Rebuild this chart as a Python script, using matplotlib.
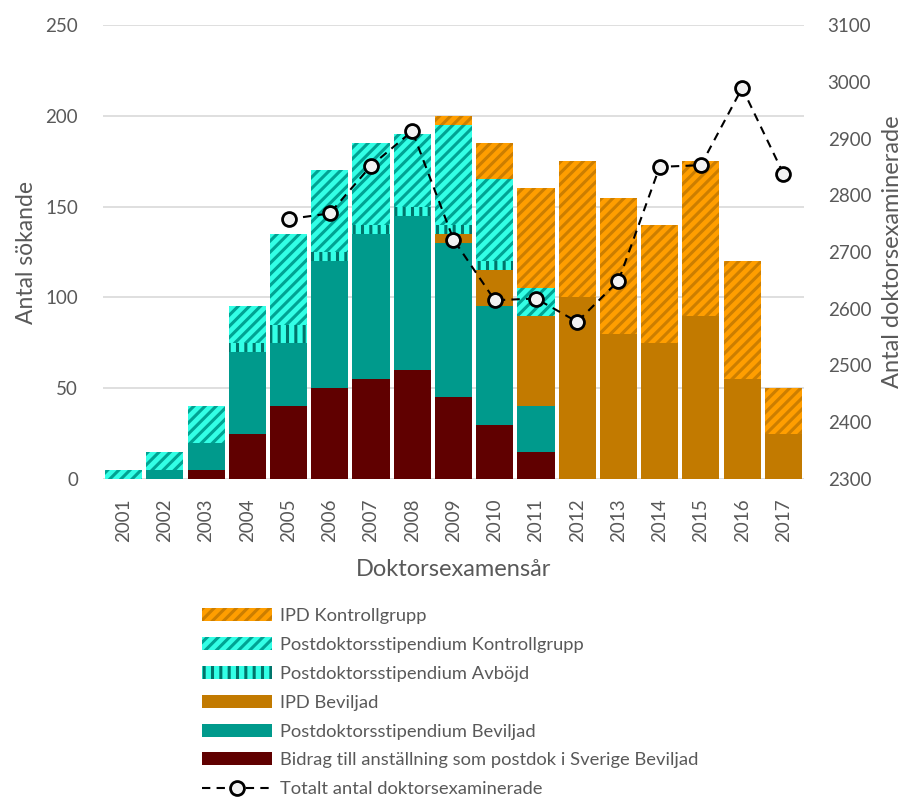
import matplotlib.pyplot as plt
import numpy as np
from matplotlib.lines import Line2D
from matplotlib.patches import Patch

plt.rcParams['font.family'] = ['Lato', 'DejaVu Sans']
plt.rcParams['hatch.linewidth'] = 2.2

years = [str(y) for y in range(2001, 2018)]
bidrag = [0, 0, 5, 25, 40, 50, 55, 60, 45, 30, 15, 0, 0, 0, 0, 0, 0]
ps_bev = [0, 5, 15, 45, 35, 70, 80, 85, 85, 65, 25, 0, 0, 0, 0, 0, 0]
ipd_bev = [0, 0, 0, 0, 0, 0, 0, 0, 5, 20, 50, 100, 80, 75, 90, 55, 25]
ps_avbojd = [0, 0, 0, 5, 10, 5, 5, 5, 5, 5, 0, 0, 0, 0, 0, 0, 0]
ps_kontroll = [5, 10, 20, 20, 50, 45, 45, 40, 55, 45, 15, 0, 0, 0, 0, 0, 0]
ipd_kontroll = [0, 0, 0, 0, 0, 0, 0, 0, 5, 20, 55, 75, 75, 65, 85, 65, 25]
totalt = [np.nan, np.nan, np.nan, np.nan, 2758, 2768, 2852, 2913, 2722,
          2615, 2618, 2577, 2649, 2850, 2853, 2989, 2838]

grey = '#595959'

fig = plt.figure(figsize=(9.14, 7.99), dpi=100)
ax = fig.add_axes([103/914, 1-479/799, 701/914, 454/799])
x = np.arange(len(years))
w = 0.9

# (values, face, hatch colour, hatch)
series = [
    (bidrag, '#600000', None, None),
    (ps_bev, '#009A8C', None, None),
    (ipd_bev, '#C27A00', None, None),
    (ps_avbojd, '#33FFE6', '#00756B', '||'),
    (ps_kontroll, '#33FFE6', '#00A393', '///'),
    (ipd_kontroll, '#FF9E00', '#CC7E00', '///'),
]
bottom = np.zeros(len(years))
for vals, face, hc, h in series:
    vals = np.array(vals, dtype=float)
    if h is None:
        ax.bar(x, vals, w, bottom=bottom, color=face, linewidth=0, zorder=2)
    else:
        ax.bar(x, vals, w, bottom=bottom, facecolor=face, edgecolor=hc,
               hatch=h, linewidth=0, zorder=2)
    bottom += vals

ax.set_ylim(0, 250)
ax.set_xlim(-0.5, len(years) - 0.5)
ax.set_yticks(range(0, 251, 50))
ax.set_xticks(x)
ax.set_xticklabels(years, rotation=90)
ax.grid(axis='y', color='#D9D9D9', linewidth=1.2, zorder=0)
ax.set_axisbelow(True)
for s in ax.spines.values():
    s.set_visible(False)
ax.tick_params(length=0, labelsize=13.5, labelcolor=grey)
ax.tick_params(axis='y', pad=18)
ax.tick_params(axis='x', pad=14)
ax.set_ylabel('Antal sökande', fontsize=16.5, color=grey, labelpad=6)
ax.set_xlabel('Doktorsexamensår', fontsize=17, color=grey, labelpad=12)

ax2 = ax.twinx()
ax2.plot(x, totalt, color='black', linestyle=(0, (4, 3)), linewidth=1.5,
         marker='o', markersize=10, markerfacecolor='#F2F2F2',
         markeredgecolor='black', markeredgewidth=2, zorder=3)
ax2.set_ylim(2300, 3100)
ax2.set_yticks(range(2300, 3101, 100))
for s in ax2.spines.values():
    s.set_visible(False)
ax2.tick_params(length=0, labelsize=13.5, labelcolor=grey, pad=17)
ax2.set_ylabel('Antal doktorsexaminerade', fontsize=17, color=grey, labelpad=8)

handles = [
    Patch(facecolor='#FF9E00', edgecolor='#CC7E00', hatch='///', linewidth=0),
    Patch(facecolor='#33FFE6', edgecolor='#00A393', hatch='///', linewidth=0),
    Patch(facecolor='#33FFE6', edgecolor='#00756B', hatch='||', linewidth=0),
    Patch(facecolor='#C27A00', linewidth=0),
    Patch(facecolor='#009A8C', linewidth=0),
    Patch(facecolor='#600000', linewidth=0),
    Line2D([], [], color='black', linestyle=(0, (4, 3)), linewidth=1.5,
           marker='o', markersize=10, markerfacecolor='#F2F2F2',
           markeredgecolor='black', markeredgewidth=2),
]
labels = ['IPD Kontrollgrupp', 'Postdoktorsstipendium Kontrollgrupp',
          'Postdoktorsstipendium Avböjd', 'IPD Beviljad',
          'Postdoktorsstipendium Beviljad',
          'Bidrag till anställning som postdok i Sverige Beviljad',
          'Totalt antal doktorsexaminerade']
leg = fig.legend(handles, labels, loc='upper left',
                 bbox_to_anchor=(193/914, 1-599/799), frameon=False,
                 fontsize=13.2, handlelength=3.8, handletextpad=0.45,
                 labelspacing=0.7, borderpad=0)
for t in leg.get_texts():
    t.set_color(grey)

fig.savefig('out.png', dpi=100)
